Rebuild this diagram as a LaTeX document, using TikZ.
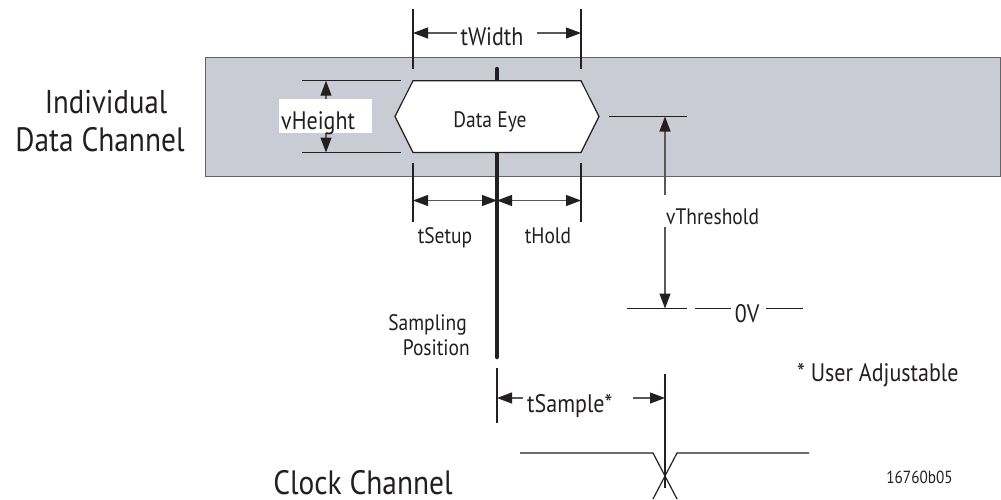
\documentclass[tikz,border=0pt]{standalone}
\usepackage{fontspec}
\setmainfont{PT Sans}[FakeStretch=0.87]
\usetikzlibrary{arrows.meta}
\definecolor{band}{HTML}{C9CCD4}
\definecolor{ink}{HTML}{231F20}
\tikzset{
  x=1pt,y=-1pt,
  lbl/.style={inner sep=0pt,text=ink,font=\fontsize{22.4}{24}\selectfont},
  lblL/.style={inner sep=0pt,text=ink,font=\fontsize{25.3}{27}\selectfont},
  big/.style={inner sep=0pt,text=ink,font=\fontsize{33.8}{35}\selectfont},
  ind/.style={inner sep=0pt,text=ink,font=\fontsize{33}{35}\selectfont},
  small/.style={inner sep=0pt,text=ink,font=\fontsize{17.5}{19}\selectfont},
  rule/.style={draw=ink,line width=1.2pt},
  dim/.style={draw=ink!75,line width=1.1pt},
  tipS/.style={-{Triangle[length=15pt,width=11pt,color=ink]}},
  samp/.style={draw=ink,line width=4.5pt,line cap=round}
}
\begin{document}
\begin{tikzpicture}
\useasboundingbox (0,0) rectangle (1001,499);
\fill[white] (0,0) rectangle (1001,499);
\draw[fill=band,draw=ink!70,line width=1pt] (205,57) rectangle (1000.4,176.5);
% sampling line
\coordinate (sTop) at (497,69); \coordinate (sBot) at (497,357);
\draw[samp] (sTop) -- (sBot);
% eye
\draw[fill=white,draw=ink,line width=1.2pt] (395,116.5) -- (413,80.7) -- (581,80.7) -- (599,116.5) -- (581,152.5) -- (413,152.5) -- cycle;
\node[lbl,anchor=base] (eyeT) at (490,127.5) {Data Eye};
% tWidth
\coordinate (wLa) at (413,9); \coordinate (wLb) at (413,69);
\coordinate (wRa) at (581,9); \coordinate (wRb) at (581,69);
\draw[rule] (wLa) -- (wLb); \draw[rule] (wRa) -- (wRb);
\node[lblL,anchor=base] (tw) at (492,45) {tWidth};
\coordinate (wL) at (413,33); \coordinate (wR) at (581,33);
\coordinate (wLs) at (457,33); \coordinate (wRs) at (537,33);
\draw[dim,tipS] (wLs) -- (wL); \draw[dim,tipS] (wRs) -- (wR);
% vHeight
\coordinate (hTa) at (302,80.7); \coordinate (hTb) at (401,80.7);
\coordinate (hBa) at (302,152.5); \coordinate (hBb) at (401,152.5);
\draw[rule] (hTa) -- (hTb); \draw[rule] (hBa) -- (hBb);
\coordinate (hT) at (326,80.7); \coordinate (hB) at (326,152.5);
\coordinate (hM) at (326,116);
\draw[dim,tipS] (hM) -- (hT); \draw[dim,tipS] (hM) -- (hB);
\fill[white] (279,99) rectangle (372,133);
\node[lblL,anchor=base west] (vh) at (281,129) {vHeight};
% tSetup / tHold
\coordinate (sLa) at (413,163); \coordinate (sLb) at (413,222);
\coordinate (sRa) at (581,163); \coordinate (sRb) at (581,222);
\draw[rule] (sLa) -- (sLb); \draw[rule] (sRa) -- (sRb);
\coordinate (sL) at (413,200.5); \coordinate (sR) at (581,200.5); \coordinate (sC) at (497,200.5);
\coordinate (sCl) at (455,200.5); \coordinate (sCr) at (539,200.5);
\draw[dim,tipS] (sCl) -- (sL); \draw[dim,tipS] (sCl) -- (sC);
\draw[dim,tipS] (sCr) -- (sC); \draw[dim,tipS] (sCr) -- (sR);
\node[lbl,anchor=base] (ts) at (445,243) {tSetup};
\node[lbl,anchor=base] (th) at (548,243) {tHold};
% vThreshold
\coordinate (thA) at (609,116.5); \coordinate (thB) at (687,116.5);
\draw[rule] (thA) -- (thB);
\coordinate (zA) at (627,308.5); \coordinate (zB) at (687,308.5);
\draw[rule] (zA) -- (zB);
\coordinate (zC) at (695,308.5); \coordinate (zD) at (731,308.5);
\coordinate (zE) at (766,308.5); \coordinate (zF) at (803,308.5);
\draw[rule] (zC) -- (zD); \draw[rule] (zE) -- (zF);
\node[lblL,anchor=base] (zv) at (747,322) {0V};
\coordinate (vU) at (665,116.5); \coordinate (vUs) at (665,195);
\coordinate (vD) at (665,308.5); \coordinate (vDs) at (665,227);
\draw[dim,tipS] (vUs) -- (vU); \draw[dim,tipS] (vDs) -- (vD);
\node[lbl,anchor=base west] (vt) at (666,224) {vThreshold};
% sampling label
\node[lbl,anchor=base east] (sa) at (467,330) {Sampling};
\node[lbl,anchor=base east] (po) at (470,355) {Position};
% tSample
\coordinate (pLa) at (497,368); \coordinate (pLb) at (497,423);
\draw[rule] (pLa) -- (pLb);
\coordinate (pRa) at (665,374); \coordinate (pRb) at (665,488);
\draw[rule] (pRa) -- (pRb);
\coordinate (pL) at (497,398); \coordinate (pR) at (665,398);
\coordinate (pLs) at (523,398); \coordinate (pRs) at (633,398);
\draw[dim,tipS] (pLs) -- (pL); \draw[dim,tipS] (pRs) -- (pR);
\node[lblL,anchor=base west] (tp) at (527,412) {tSample*};
\node[lblL,anchor=base west] (ua) at (797,381.5) {* User Adjustable};
% clock
\coordinate (cA) at (520,453); \coordinate (cB) at (653,453); \coordinate (cC) at (677,499);
\coordinate (cD) at (809,453); \coordinate (cE) at (677,453); \coordinate (cF) at (653,499);
\draw[rule] (cA) -- (cB) -- (cC);
\draw[rule] (cD) -- (cE) -- (cF);
% labels
\node[ind,anchor=base] (in) at (106,113) {Individual};
\node[big,anchor=base] (dc) at (100,151.5) {Data Channel};
\node[big,anchor=base] (cc) at (363,494.5) {Clock Channel};
\node[small,anchor=base] (id) at (919.5,483) {16760b05};
\end{tikzpicture}
\end{document}
